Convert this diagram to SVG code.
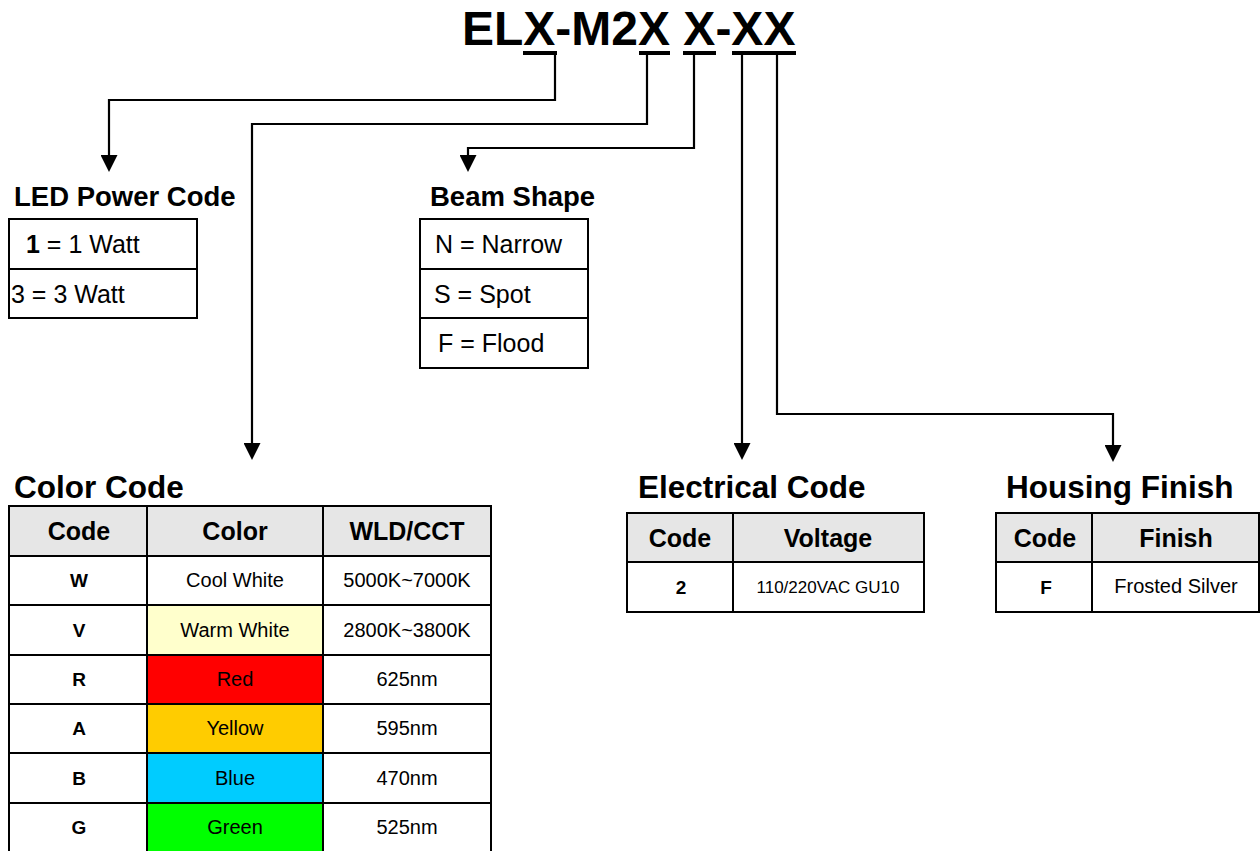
<svg xmlns="http://www.w3.org/2000/svg" width="1260" height="851" viewBox="0 0 1260 851">
<defs>
<marker id="arr" viewBox="0 0 17 17" refX="0" refY="8.5" markerWidth="17" markerHeight="17" markerUnits="userSpaceOnUse" orient="auto">
<path d="M0,0 L17,8.5 L0,17 z" fill="#000"/>
</marker>
</defs>
<style>
text{font-family:"Liberation Sans",Arial,sans-serif;fill:#000}
.title{font-size:48px;font-weight:bold}
.h1{font-size:27.5px;font-weight:bold}
.h2{font-size:31.5px;font-weight:bold}
.opt{font-size:25px}
.th{font-size:25px;font-weight:bold;text-anchor:middle}
.tc{font-size:19px;font-weight:bold;text-anchor:middle}
.td{font-size:20px;text-anchor:middle}
.sm{font-size:17px;text-anchor:middle}
.grid{fill:none;stroke:#000;stroke-width:2}
.hdr{fill:#e6e6e6}
.conn{fill:none;stroke:#000;stroke-width:2.2}
</style>
<rect width="1260" height="851" fill="#fff"/>

<g id="part-number">
<text class="title" x="462" y="45">ELX-M2X X-XX</text>
<rect x="523" y="51" width="34" height="4"/>
<rect x="639" y="51" width="31" height="4"/>
<rect x="683" y="51" width="33" height="4"/>
<rect x="732" y="51" width="64" height="4"/>
</g>

<g id="connectors">
<path class="conn" d="M555,55 V100 H109 V155" marker-end="url(#arr)"/>
<path class="conn" d="M647,55 V124 H252 V443" marker-end="url(#arr)"/>
<path class="conn" d="M694,55 V148 H468 V155" marker-end="url(#arr)"/>
<path class="conn" d="M742,55 V443" marker-end="url(#arr)"/>
<path class="conn" d="M777,55 V414 H1113 V445" marker-end="url(#arr)"/>
</g>

<g id="led-power-code">
<text class="h1" x="14" y="206">LED Power Code</text>
<rect class="grid" x="9" y="219" width="188" height="99"/>
<line class="grid" x1="9" y1="269" x2="197" y2="269"/>
<text class="opt" x="26" y="253"><tspan font-weight="bold">1</tspan> = 1 Watt</text>
<text class="opt" x="11" y="303">3 = 3 Watt</text>
</g>

<g id="beam-shape">
<text class="h1" x="430" y="206">Beam Shape</text>
<rect class="grid" x="420" y="219" width="168" height="149"/>
<line class="grid" x1="420" y1="269" x2="588" y2="269"/>
<line class="grid" x1="420" y1="318" x2="588" y2="318"/>
<text class="opt" x="435" y="253">N = Narrow</text>
<text class="opt" x="434" y="303">S = Spot</text>
<text class="opt" x="438" y="352">F = Flood</text>
</g>

<g id="color-code">
<text class="h2" x="14" y="498">Color Code</text>
<rect class="hdr" x="9" y="506" width="482" height="50"/>
<rect x="147" y="605" width="176" height="50" fill="#ffffcc"/>
<rect x="147" y="655" width="176" height="49" fill="#ff0000"/>
<rect x="147" y="704" width="176" height="49" fill="#ffcc00"/>
<rect x="147" y="753" width="176" height="50" fill="#00ccff"/>
<rect x="147" y="803" width="176" height="50" fill="#00ff00"/>
<path class="grid" d="M9,860 V506 H491 V860 M147,506 V860 M323,506 V860 M9,556 H491 M9,605 H491 M9,655 H491 M9,704 H491 M9,753 H491 M9,803 H491"/>
<text class="th" x="79" y="540">Code</text>
<text class="th" x="235" y="540">Color</text>
<text class="th" x="407" y="540">WLD/CCT</text>
<text class="tc" x="79" y="587">W</text>
<text class="td" x="235" y="587">Cool White</text>
<text class="td" x="407" y="587">5000K~7000K</text>
<text class="tc" x="79" y="637">V</text>
<text class="td" x="235" y="637">Warm White</text>
<text class="td" x="407" y="637">2800K~3800K</text>
<text class="tc" x="79" y="686">R</text>
<text class="td" x="235" y="686">Red</text>
<text class="td" x="407" y="686">625nm</text>
<text class="tc" x="79" y="735">A</text>
<text class="td" x="235" y="735">Yellow</text>
<text class="td" x="407" y="735">595nm</text>
<text class="tc" x="79" y="785">B</text>
<text class="td" x="235" y="785">Blue</text>
<text class="td" x="407" y="785">470nm</text>
<text class="tc" x="79" y="834">G</text>
<text class="td" x="235" y="834">Green</text>
<text class="td" x="407" y="834">525nm</text>
</g>

<g id="electrical-code">
<text class="h2" x="638" y="498">Electrical Code</text>
<rect class="hdr" x="627" y="513" width="297" height="49"/>
<path class="grid" d="M627,513 H924 V612 H627 Z M627,562 H924 M733,513 V612"/>
<text class="th" x="680" y="547">Code</text>
<text class="th" x="828" y="547">Voltage</text>
<text class="tc" x="681" y="594">2</text>
<text class="sm" x="828" y="593">110/220VAC GU10</text>
</g>

<g id="housing-finish">
<text class="h2" x="1006" y="498">Housing Finish</text>
<rect class="hdr" x="996" y="513" width="263" height="49"/>
<path class="grid" d="M996,513 H1259 V612 H996 Z M996,562 H1259 M1092,513 V612"/>
<text class="th" x="1045" y="547">Code</text>
<text class="th" x="1176" y="547">Finish</text>
<text class="tc" x="1046" y="594">F</text>
<text class="td" x="1176" y="593">Frosted Silver</text>
</g>
</svg>
